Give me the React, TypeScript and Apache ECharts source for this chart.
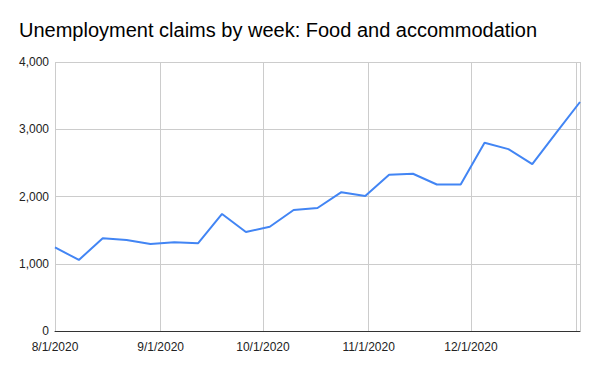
import React, { useEffect, useRef } from "react";
import * as echarts from "echarts";

const weekDates = [
  "2020-08-01", "2020-08-08", "2020-08-15", "2020-08-22", "2020-08-29",
  "2020-09-05", "2020-09-12", "2020-09-19", "2020-09-26",
  "2020-10-03", "2020-10-10", "2020-10-17", "2020-10-24", "2020-10-31",
  "2020-11-07", "2020-11-14", "2020-11-21", "2020-11-28",
  "2020-12-05", "2020-12-12", "2020-12-19", "2020-12-26", "2021-01-02",
];
const claims = [
  1245, 1056, 1380, 1353, 1294,
  1320, 1305, 1740, 1472,
  1550, 1800, 1829, 2064, 2007,
  2322, 2338, 2178, 2180,
  2800, 2704, 2480, 2945, 3405,
];
const yTicks = [0, 1000, 2000, 3000, 4000];
const titleText = "Unemployment claims by week: Food and accommodation";

const toTs = (s: string) => {
  const [y, m, d] = s.split("-").map(Number);
  return Date.UTC(y, m - 1, d);
};

export default function App() {
  const ref = useRef<HTMLDivElement>(null);
  useEffect(() => {
    if (!ref.current) return;
    const chart = echarts.init(ref.current, null, { renderer: "svg" });
    const font = "'Liberation Sans', Arial, sans-serif";
    chart.setOption({
      animation: false,
      useUTC: true,
      title: {
        text: titleText,
        left: 14,
        top: 15,
        textStyle: { fontFamily: font, fontSize: 20, fontWeight: "normal", color: "#000" },
      },
      grid: { left: 55, right: 20, top: 62, bottom: 40 },
      xAxis: {
        type: "time",
        min: toTs(weekDates[0]),
        max: toTs(weekDates[weekDates.length - 1]),
        minInterval: 28 * 86400000,
        maxInterval: 31 * 86400000,
        axisLine: { show: true, lineStyle: { color: "#333", width: 1 } },
        axisTick: { show: false },
        splitLine: { show: true, lineStyle: { color: "#cccccc", width: 1 } },
        axisLabel: {
          fontFamily: font,
          fontSize: 12,
          color: "#222",
          margin: 10,
          hideOverlap: false,
          showMaxLabel: false,
          formatter: (v: number) => {
            const d = new Date(v);
            if (d.getUTCMonth() === 0) return "";
            return `${d.getUTCMonth() + 1}/${d.getUTCDate()}/${d.getUTCFullYear()}`;
          },
        },
      },
      yAxis: {
        type: "value",
        min: yTicks[0],
        max: yTicks[yTicks.length - 1],
        interval: 1000,
        axisLine: { show: false },
        axisTick: { show: false },
        splitLine: { show: true, lineStyle: { color: "#cccccc", width: 1 } },
        axisLabel: {
          fontFamily: font,
          fontSize: 12,
          color: "#222",
          margin: 6,
          formatter: (v: number) => v.toLocaleString("en-US"),
        },
      },
      series: [
        {
          type: "line",
          data: weekDates.map((d, i) => [toTs(d), claims[i]]),
          showSymbol: false,
          symbol: "none",
          lineStyle: { color: "#4285F4", width: 2 },
          itemStyle: { color: "#4285F4" },
        },
      ],
    });
    return () => chart.dispose();
  }, []);
  return <div ref={ref} style={{ width: 600, height: 371, position: "absolute", left: 0, top: 0 }} />;
}
